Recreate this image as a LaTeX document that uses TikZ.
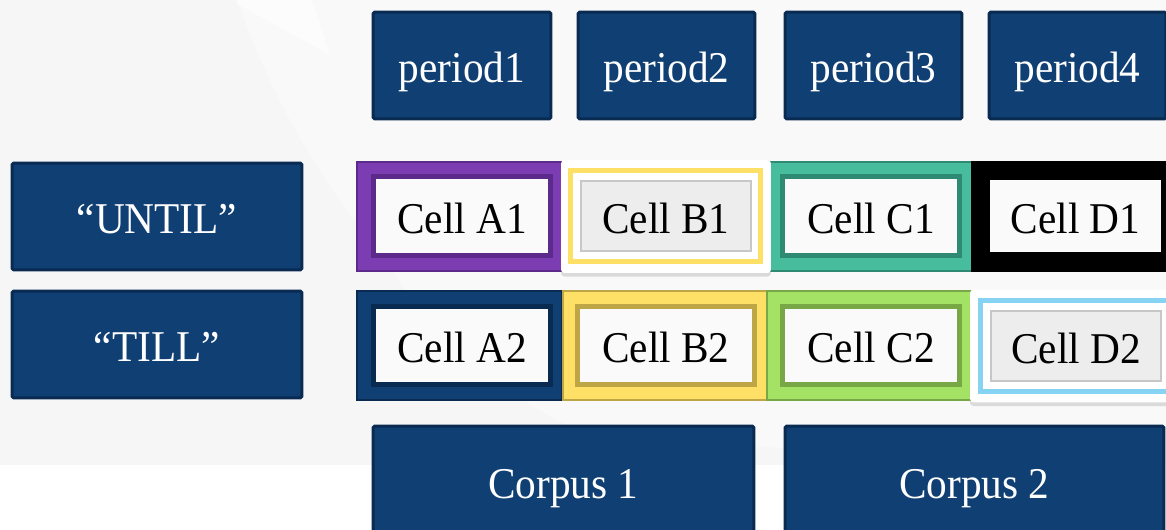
\documentclass[tikz,border=0pt]{standalone}
\usepackage{fontspec}
\setmainfont{Liberation Serif}[FakeStretch=0.94]
\usepackage{xcolor}
\usetikzlibrary{shapes,positioning,shadows}
\definecolor{slidenavy}{RGB}{16,63,115}
\definecolor{slidenavydark}{RGB}{9,43,82}
\definecolor{cellpurple}{RGB}{124,61,178}
\definecolor{cellpurpledark}{RGB}{92,42,138}
\definecolor{cellyellow}{RGB}{255,224,102}
\definecolor{cellyellowdark}{RGB}{190,166,70}
\definecolor{cellteal}{RGB}{72,189,157}
\definecolor{celltealdark}{RGB}{47,138,116}
\definecolor{cellgreen}{RGB}{163,226,100}
\definecolor{cellgreendark}{RGB}{120,168,69}
\definecolor{cellblue}{RGB}{135,211,244}
\definecolor{slidebg}{RGB}{246,246,246}
\definecolor{slidebglight}{RGB}{249,249,249}
\definecolor{slidebgwedge}{RGB}{252,252,252}
\definecolor{cellwhite}{RGB}{250,250,250}
\tikzset{
    bigtext/.style={font=\fontsize{25}{30}\selectfont, text height=19.5pt, text depth=0pt},
    navybox/.style={draw=slidenavydark, line width=0.06cm, fill=slidenavy, rectangle, rounded corners=1pt, text=white, bigtext},
    cellouter/.style={draw=#1, line width=0.04cm, rectangle, minimum width=4.1cm, minimum height=2.18cm},
    cellinner/.style={draw=#1, line width=0.1cm, fill=cellwhite, rectangle, minimum width=3.55cm, minimum height=1.58cm, text=black, bigtext},
    cellcard/.style={fill=white, rectangle, rounded corners=2pt, minimum width=4.2cm, minimum height=2.26cm, drop shadow={opacity=0.25, shadow xshift=0pt, shadow yshift=-2pt}},
    cellframe/.style={draw=#1, line width=0.1cm, rectangle, minimum width=3.8cm, minimum height=1.82cm},
    cellsunk/.style={draw=black!22, line width=0.8pt, fill=black!7, rectangle, minimum width=3.4cm, minimum height=1.4cm, text=black, bigtext}
}

\begin{document}
\begin{tikzpicture}[x=0.02cm, y=-0.02cm]
    \useasboundingbox (0,0) rectangle (1166,530);
    % background
    \fill[slidebg] (0,0) rectangle (1166,465);
    \fill[slidebglight] (237,0) .. controls (280,120) and (330,190) .. (370,240) .. controls (430,330) and (500,400) .. (600,440) -- (1166,465) -- (1166,0) -- cycle;
    \fill[slidebgwedge] (237,4) -- (330,55) -- (312,0) -- (237,0) -- cycle;

    % periods
    \node[navybox, minimum width=3.56cm, minimum height=2.14cm] (p1) at (462,65.5) {period1};
    \node[navybox, minimum width=3.54cm, minimum height=2.14cm] (p2) at (666.5,65.5) {period2};
    \node[navybox, minimum width=3.54cm, minimum height=2.14cm] (p3) at (873.5,65.5) {period3};
    \node[navybox, minimum width=3.54cm, minimum height=2.14cm] (p4) at (1077.5,65.5) {period4};

    % row labels
    \node[navybox, minimum width=5.8cm, minimum height=2.14cm] (until) at (157,216.5) {``UNTIL''};
    \node[navybox, minimum width=5.8cm, minimum height=2.14cm] (till) at (157,344.5) {``TILL''};

    % row 1
    \node[cellouter=cellpurpledark, fill=cellpurple] (a1o) at (459.5,216.5) {};
    \node[cellinner=cellpurpledark] (a1) at (462,216) {Cell A1};
    \node[cellouter=celltealdark, fill=cellteal] (c1o) at (869.5,216.5) {};
    \node[cellinner=celltealdark] (c1) at (871,216) {Cell C1};
    \node[cellouter=black, fill=black] (d1o) at (1074,216.5) {};
    \node[cellinner=black, line width=0pt, minimum width=3.46cm, minimum height=1.48cm] (d1) at (1075.5,216) {Cell D1};
    \node[cellcard] (b1o) at (666,216.5) {};
    \node[cellframe=cellyellow] (b1f) at (665.5,216) {};
    \node[cellsunk] (b1) at (666,216) {Cell B1};

    % row 2
    \node[cellouter=slidenavydark, fill=slidenavy] (a2o) at (459.5,345.5) {};
    \node[cellinner=slidenavydark] (a2) at (462,345.5) {Cell A2};
    \node[cellouter=cellyellowdark, fill=cellyellow] (b2o) at (665,345.5) {};
    \node[cellinner=cellyellowdark] (b2) at (666,345.5) {Cell B2};
    \node[cellouter=cellgreendark, fill=cellgreen] (c2o) at (869.5,345.5) {};
    \node[cellinner=cellgreendark] (c2) at (871,345.5) {Cell C2};
    \node[cellcard] (d2o) at (1075,346) {};
    \node[cellframe=cellblue] (d2f) at (1075.5,346) {};
    \node[cellsunk] (d2) at (1076,346) {Cell D2};

    % corpora
    \node[navybox, minimum width=7.62cm, minimum height=2.2cm] (corpus1) at (563.5,481) {Corpus 1};
    \node[navybox, minimum width=7.58cm, minimum height=2.2cm] (corpus2) at (974.5,481) {Corpus 2};
\end{tikzpicture}
\end{document}
